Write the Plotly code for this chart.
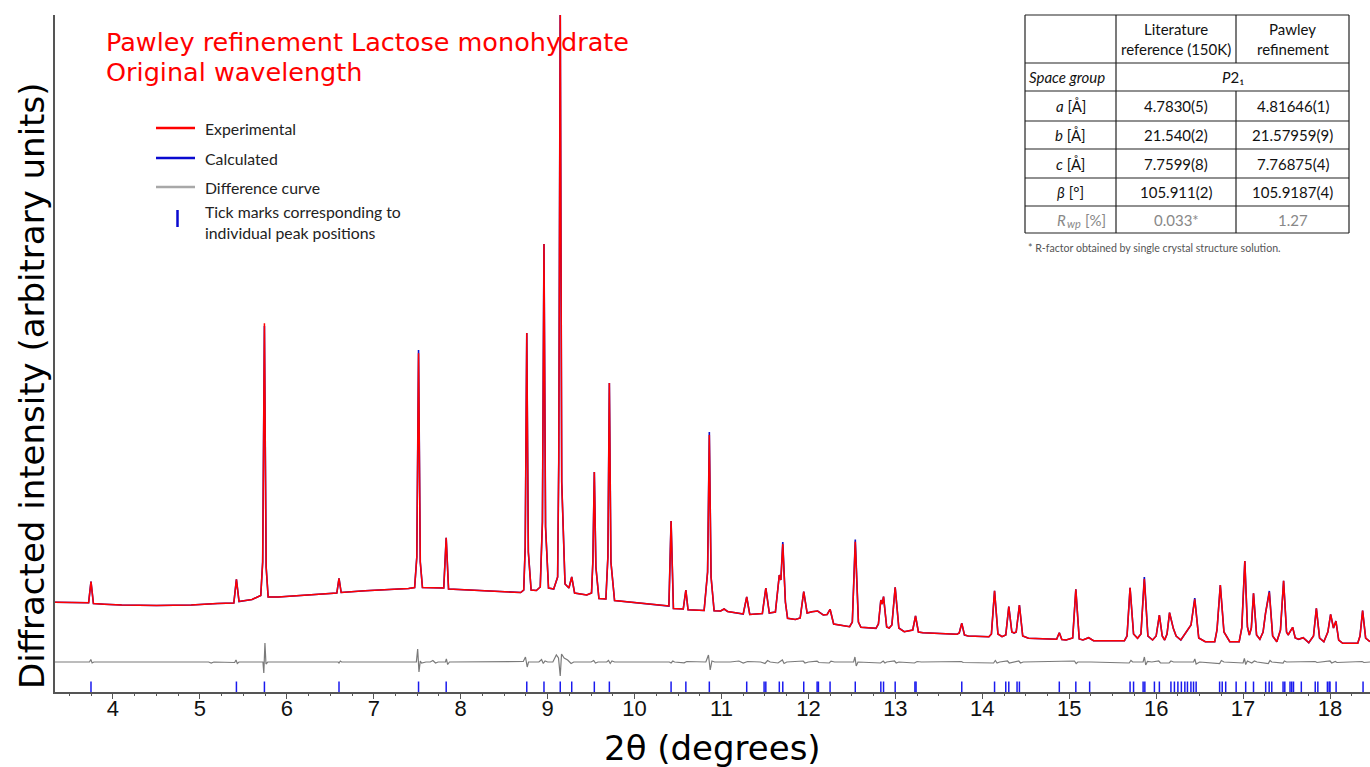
import plotly.graph_objects as go

# ---------------- data ----------------
# experimental profile vertices (2theta in degrees, intensity in arbitrary units)
exp_two_theta = [
    3.333, 3.55, 3.72, 3.747, 3.775, 3.9, 4.1, 4.5,
    4.9, 5.2, 5.39, 5.42, 5.45, 5.6, 5.70, 5.722,
    5.742, 5.762, 5.785, 5.9, 6.2, 6.5, 6.575, 6.60,
    6.625, 6.9, 7.15, 7.4, 7.47, 7.495, 7.515, 7.535,
    7.56, 7.75, 7.805, 7.833, 7.86, 8.1, 8.49, 8.69,
    8.725, 8.742, 8.76, 8.778, 8.81, 8.87, 8.915, 8.94,
    8.958, 8.976, 9.01, 9.07, 9.115, 9.128, 9.145, 9.162,
    9.20, 9.245, 9.277, 9.31, 9.45, 9.505, 9.52, 9.537,
    9.555, 9.59, 9.67, 9.693, 9.71, 9.728, 9.77, 9.95,
    10.2, 10.395, 10.42, 10.447, 10.56, 10.59, 10.615, 10.80,
    10.84, 10.86, 10.88, 10.915, 10.99, 11.03, 11.07, 11.25,
    11.29, 11.325, 11.47, 11.51, 11.55, 11.62, 11.665, 11.683,
    11.705, 11.735, 11.76, 11.85, 11.905, 11.946, 11.985, 12.041,
    12.106, 12.171, 12.215, 12.249, 12.29, 12.366, 12.474, 12.505,
    12.539, 12.575, 12.604, 12.777, 12.805, 12.833, 12.848, 12.864,
    12.90, 12.929, 12.96, 12.998, 13.04, 13.102, 13.20, 13.232,
    13.265, 13.318, 13.708, 13.735, 13.764, 13.795, 13.838, 14.076,
    14.105, 14.141, 14.18, 14.227, 14.27, 14.305, 14.34, 14.366,
    14.39, 14.427, 14.465, 14.531, 14.855, 14.886, 14.915, 14.964,
    15.04, 15.076, 15.115, 15.158, 15.223, 15.28, 15.635, 15.665,
    15.70, 15.74, 15.786, 15.825, 15.864, 15.905, 15.959, 16.00,
    16.037, 16.07, 16.098, 16.125, 16.154, 16.197, 16.23, 16.284,
    16.375, 16.401, 16.444, 16.49, 16.565, 16.674, 16.70, 16.738,
    16.78, 16.847, 16.955, 16.985, 17.02, 17.05, 17.072, 17.095,
    17.12, 17.155, 17.193, 17.23, 17.258, 17.302, 17.34, 17.388,
    17.43, 17.466, 17.50, 17.518, 17.57, 17.60, 17.639, 17.691,
    17.756, 17.81, 17.843, 17.88, 17.929, 17.975, 18.007, 18.04,
    18.068, 18.10, 18.146, 18.319, 18.345, 18.375, 18.41, 18.46,
]
exp_intensity = [
    897, 893, 893, 1103, 885, 878, 870, 865,
    870, 885, 890, 1127, 905, 925, 965, 1300,
    3687, 1250, 950, 950, 965, 985, 990, 1137,
    995, 1012, 1020, 1035, 1045, 1350, 3387, 1300,
    1045, 1040, 1040, 1543, 1030, 1020, 1003, 995,
    1020, 1450, 3590, 1400, 1020, 1015, 1050, 1700,
    4480, 1650, 1040, 1030, 1150, 2300, 6900, 2100,
    1080, 1040, 1150, 990, 970, 990, 1300, 2200,
    1250, 935, 930, 1350, 3090, 1300, 915, 900,
    880, 860, 1710, 835, 830, 1020, 822, 815,
    1200, 2570, 1150, 812, 810, 830, 805, 780,
    950, 775, 785, 1040, 790, 800, 1170, 1120,
    1480, 900, 737, 725, 740, 1003, 790, 803,
    810, 770, 775, 827, 680, 670, 653, 700,
    1503, 700, 647, 637, 680, 920, 880, 953,
    650, 640, 670, 1047, 640, 603, 620, 760,
    600, 593, 577, 590, 687, 570, 560, 553,
    580, 1013, 580, 553, 570, 853, 600, 590,
    600, 870, 560, 537, 527, 593, 525, 520,
    540, 1027, 530, 520, 543, 513, 513, 560,
    1043, 580, 537, 580, 1130, 560, 520, 560,
    770, 560, 520, 580, 793, 637, 560, 520,
    640, 670, 927, 540, 503, 503, 620, 1070,
    600, 503, 503, 640, 1310, 650, 570, 640,
    987, 570, 527, 600, 787, 997, 560, 503,
    620, 1113, 600, 570, 647, 540, 527, 543,
    493, 560, 837, 540, 503, 600, 777, 640,
    710, 520, 487, 487, 560, 813, 540, 503,
]

# calculated profile: same vertices, differing from the experiment only here
calc_diff_two_theta = [5.742, 7.515, 10.86, 11.705, 12.539, 15.864, 16.444, 17.302]
calc_diff_intensity = [3660, 3420, 2600, 1500, 1525, 1150, 940, 1010]

# difference curve (obs - calc), arbitrary units
diff_two_theta = [
    3.333, 3.73, 3.745, 3.76, 3.78, 5.10, 5.13, 5.16,
    5.40, 5.415, 5.43, 5.45, 5.725, 5.735, 5.748, 5.76,
    5.78, 6.59, 6.60, 6.615, 6.63, 7.49, 7.505, 7.52,
    7.535, 7.55, 7.60, 7.65, 7.68, 7.71, 7.74, 7.825,
    7.835, 7.85, 7.87, 8.60, 8.72, 8.745, 8.765, 8.78,
    8.90, 8.93, 8.95, 8.97, 9.00, 9.06, 9.10, 9.125,
    9.145, 9.16, 9.19, 9.23, 9.27, 9.30, 9.50, 9.53,
    9.55, 9.58, 9.68, 9.70, 9.72, 9.74, 9.77, 10.40,
    10.42, 10.44, 10.46, 10.57, 10.60, 10.82, 10.85, 10.87,
    10.89, 10.92, 11.10, 11.20, 11.25, 11.30, 11.45, 11.50,
    11.53, 11.56, 11.65, 11.70, 11.72, 11.75, 11.94, 11.96,
    12.00, 12.10, 12.12, 12.24, 12.26, 12.30, 12.52, 12.535,
    12.55, 12.57, 12.83, 12.86, 12.88, 12.90, 12.99, 13.01,
    13.04, 13.22, 13.25, 13.30, 13.76, 13.78, 14.13, 14.15,
    14.17, 14.20, 14.29, 14.31, 14.42, 14.44, 14.47, 15.06,
    15.08, 15.10, 15.22, 15.25, 15.69, 15.71, 15.73, 15.85,
    15.865, 15.88, 15.90, 15.95, 16.03, 16.05, 16.15, 16.17,
    16.20, 16.43, 16.445, 16.46, 16.50, 16.73, 16.75, 16.78,
    17.00, 17.015, 17.03, 17.05, 17.10, 17.13, 17.16, 17.29,
    17.31, 17.33, 17.46, 17.475, 17.50, 17.83, 17.85, 18.00,
    18.02, 18.06, 18.08, 18.37, 18.39, 18.46,
]
diff_intensity = [
    0, 0, 25, -10, 0, 0, -10, 0,
    -5, 20, -15, 0, 0, -110, 190, -20,
    0, 0, -10, 10, 0, 0, 130, -100,
    10, -10, 0, 0, 15, -10, 0, 0,
    30, -25, 0, 0, 5, 50, -50, 0,
    0, 25, -15, 10, 0, 0, 70, 40,
    -140, 80, 40, 20, -15, 0, 0, 15,
    -10, 0, 0, 15, -15, 10, 0, 0,
    -10, 10, 0, -8, 5, 0, 70, -80,
    10, 0, 0, 10, -10, 5, 0, -15,
    15, 0, -10, 20, -15, 0, 10, -10,
    0, 8, -5, -10, 8, 0, 0, 50,
    -40, 0, -10, 10, -10, 0, 10, -10,
    0, -10, 5, 0, 5, -5, -10, 15,
    -10, 0, 10, -10, 10, -10, 0, 10,
    -15, 0, 5, 0, -10, 15, 0, 0,
    50, -30, 5, 0, 10, -10, -10, 10,
    0, 0, 30, -20, 0, -15, 15, 0,
    -10, 35, -25, 10, -10, 10, 0, -15,
    15, 0, -10, 10, 0, 5, -5, 10,
    -10, 5, -5, 5, -5, 0,
]

# reflection (tick mark) positions, degrees 2theta
reflection_two_theta = [
    3.747, 5.42, 5.742, 6.60, 7.515, 7.833, 8.76, 8.958, 9.145, 9.277,
    9.537, 9.71, 10.42, 10.59, 10.86, 11.29, 11.49, 11.51, 11.665, 11.705,
    11.946, 12.10, 12.115, 12.249, 12.539, 12.833, 12.864, 12.998, 13.225, 13.238,
    13.764, 14.141, 14.27, 14.305, 14.40, 14.427, 14.886, 15.076, 15.235, 15.70,
    15.74, 15.85, 15.87, 15.98, 16.037, 16.17, 16.21, 16.25, 16.29, 16.33,
    16.36, 16.40, 16.43, 16.46, 16.73, 16.76, 16.80, 16.92, 17.03, 17.12,
    17.26, 17.30, 17.33, 17.46, 17.48, 17.54, 17.56, 17.58, 17.67, 17.83,
    17.86, 17.97, 17.99, 18.0, 18.07, 18.38,
]

x_tick_values = list(range(4, 19))
x_tick_labels = [str(v) for v in x_tick_values]

legend_labels = ["Experimental", "Calculated", "Difference curve",
                 "Tick marks corresponding to", "individual peak positions"]

table_header_lit = ["Literature", "reference (150K)"]
table_header_paw = ["Pawley", "refinement"]
table_labels = ["<i>Space group</i>", "<i>a</i> [Å]", "<i>b</i> [Å]", "<i>c</i> [Å]",
                "<i>β</i> [°]"]
table_literature = ["<i>P</i>2₁", "4.7830(5)", "21.540(2)", "7.7599(8)", "105.911(2)"]
table_pawley = ["", "4.81646(1)", "21.57959(9)", "7.76875(4)", "105.9187(4)"]
rwp_label = ["<i>R</i>", "<i>wp</i>", "[%]"]
rwp_values = ["0.033*", "1.27"]
table_note = "* R-factor obtained by single crystal structure solution."

DIFF_OFFSET = 300      # vertical offset of the difference curve
TICK_LEVEL = 42        # vertical level of reflection tick marks

# ---------------- figure ----------------
calc_override = dict(zip(calc_diff_two_theta, calc_diff_intensity))
calc_intensity = [calc_override.get(t, v) for t, v in zip(exp_two_theta, exp_intensity)]
diff_plot = [d + DIFF_OFFSET for d in diff_intensity]

W, H = 1370, 767
ML, MR, MT, MB = 55, 0, 15, 75
PW, PH = W - ML - MR, H - MT - MB


def px(x):
    return (x - ML) / PW


def py(y):
    return (H - MB - y) / PH


RED, BLUE, GRAY, TICKBLUE = "#ff0000", "#1010c8", "#7a7a7a", "#1a1aee"

fig = go.Figure()
fig.add_trace(go.Scatter(x=exp_two_theta, y=calc_intensity, mode="lines", name=legend_labels[1],
                         line=dict(color=BLUE, width=1.6), showlegend=False))
fig.add_trace(go.Scatter(x=exp_two_theta, y=exp_intensity, mode="lines", name=legend_labels[0],
                         line=dict(color=RED, width=1.5), showlegend=False))
fig.add_trace(go.Scatter(x=diff_two_theta, y=diff_plot, mode="lines", name=legend_labels[2],
                         line=dict(color=GRAY, width=1.2), showlegend=False))
fig.add_trace(go.Scatter(x=reflection_two_theta, y=[TICK_LEVEL] * len(reflection_two_theta),
                         mode="markers", name="Tick marks", showlegend=False,
                         marker=dict(symbol="line-ns", size=9, color=TICKBLUE,
                                     line=dict(color=TICKBLUE, width=1.5))))

axis_color = "#555555"
fig.update_xaxes(range=[3.333, 18.46], showline=True, linecolor=axis_color, linewidth=1.5,
                 ticks="outside", ticklen=5, tickwidth=1.3, tickcolor=axis_color,
                 tickvals=x_tick_values, ticktext=x_tick_labels, ticklabelstandoff=-9,
                 tickfont=dict(family="Liberation Sans", size=22, color="#111"),
                 minor=dict(ticks="outside", dtick=0.25, tick0=4, ticklen=2.5,
                            tickwidth=1, tickcolor=axis_color),
                 showgrid=False, zeroline=False, mirror=False)
fig.update_yaxes(range=[0, 6770], showline=True, linecolor=axis_color, linewidth=1.5,
                 showticklabels=False, ticks="", showgrid=False, zeroline=False)

annotations = [
    dict(text="Diffracted intensity (arbitrary units)", x=px(32), y=py(386), textangle=-90,
         font=dict(family="DejaVu Sans", size=34, color="#000")),
    dict(text="2θ (degrees)", x=px(712), y=py(748),
         font=dict(family="DejaVu Sans", size=34, color="#000")),
    dict(text="Pawley refinement Lactose monohydrate", x=px(104), y=py(42), xanchor="left",
         font=dict(family="DejaVu Sans", size=25.5, color="#ff0000")),
    dict(text="Original wavelength", x=px(104), y=py(72), xanchor="left",
         font=dict(family="DejaVu Sans", size=25.5, color="#ff0000")),
]
shapes = []

# legend (drawn by hand to match the original layout)
lfont = dict(family="Lato", size=15.8, color="#222")
legend_rows_y = [128, 158, 187, 211, 232]
legend_colors = [RED, "#0a0ad0", "#a8a8a8"]
for lab, yy, col in zip(legend_labels[:3], legend_rows_y, legend_colors):
    shapes.append(dict(type="line", xref="paper", yref="paper", x0=px(156), x1=px(195),
                       y0=py(yy), y1=py(yy), line=dict(color=col, width=2.5)))
for lab, yy in zip(legend_labels, legend_rows_y):
    annotations.append(dict(text=lab, x=px(203), y=py(yy), xanchor="left", font=lfont))
shapes.append(dict(type="line", xref="paper", yref="paper", x0=px(177.5), x1=px(177.5),
                   y0=py(210), y1=py(227), line=dict(color="#0a0ad0", width=2.5)))

# table geometry in pixels
tx = [1025, 1116, 1236, 1349]
ty = [15, 63, 91, 121, 149, 178, 206, 233]
lc = "#222"
for yy in ty:
    shapes.append(dict(type="line", xref="paper", yref="paper", x0=px(tx[0]), x1=px(tx[3]),
                       y0=py(yy), y1=py(yy), line=dict(color=lc, width=1.2)))
for i, xx in enumerate(tx):
    if i == 2:
        segs = [(ty[0], ty[1]), (ty[2], ty[-1])]
    else:
        segs = [(ty[0], ty[-1])]
    for a, b in segs:
        shapes.append(dict(type="line", xref="paper", yref="paper", x0=px(xx), x1=px(xx),
                           y0=py(a), y1=py(b), line=dict(color=lc, width=1.2)))

tfont = dict(family="Lato", size=15, color="#111")
gfont = dict(family="Lato", size=15, color="#888")
for k, yy in enumerate([29, 49]):
    annotations.append(dict(text=table_header_lit[k], x=px((tx[1] + tx[2]) / 2), y=py(yy), font=tfont))
    annotations.append(dict(text=table_header_paw[k], x=px((tx[2] + tx[3]) / 2), y=py(yy), font=tfont))
for r in range(5):
    yc = py((ty[r + 1] + ty[r + 2]) / 2)
    if r == 0:
        annotations.append(dict(text=table_labels[r], x=px(tx[0] + 2), y=yc, xanchor="left", font=tfont))
        annotations.append(dict(text=table_literature[r], x=px((tx[1] + tx[3]) / 2), y=yc, font=tfont))
    else:
        annotations.append(dict(text=table_labels[r], x=px((tx[0] + tx[1]) / 2), y=yc, font=tfont))
        annotations.append(dict(text=table_literature[r], x=px((tx[1] + tx[2]) / 2), y=yc, font=tfont))
        annotations.append(dict(text=table_pawley[r], x=px((tx[2] + tx[3]) / 2), y=yc, font=tfont))
# R_wp row
yc_px = (ty[6] + ty[7]) / 2
annotations.append(dict(text=rwp_label[0], x=px(1055), y=py(yc_px), xanchor="left", font=gfont))
annotations.append(dict(text=rwp_label[1], x=px(1065), y=py(yc_px + 4), xanchor="left",
                        font=dict(family="Lato", size=11, color="#888")))
annotations.append(dict(text=rwp_label[2], x=px(1083), y=py(yc_px), xanchor="left", font=gfont))
annotations.append(dict(text=rwp_values[0], x=px((tx[1] + tx[2]) / 2), y=py(yc_px), font=gfont))
annotations.append(dict(text=rwp_values[1], x=px((tx[2] + tx[3]) / 2), y=py(yc_px), font=gfont))
annotations.append(dict(text=table_note, x=px(1026), y=py(248), xanchor="left",
                        font=dict(family="Lato", size=10.6, color="#555")))

for a in annotations:
    a.setdefault("xref", "paper")
    a.setdefault("yref", "paper")
    a.setdefault("showarrow", False)
    a.setdefault("xanchor", "center")
    a.setdefault("yanchor", "middle")

fig.update_layout(
    width=W, height=H,
    margin=dict(l=ML, r=MR, t=MT, b=MB),
    paper_bgcolor="white", plot_bgcolor="white",
    showlegend=False,
    annotations=annotations,
    shapes=shapes,
)

fig.write_html("out.html")
